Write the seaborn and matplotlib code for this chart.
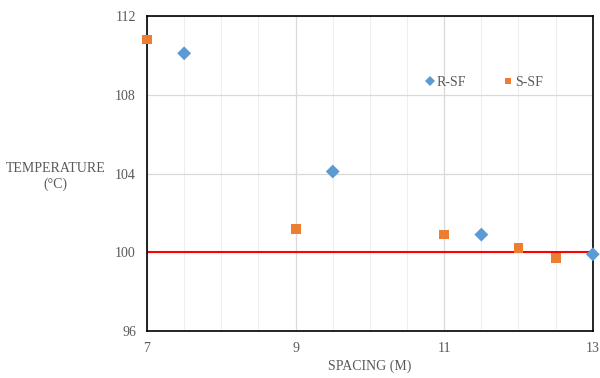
import pandas as pd
import numpy as np
import seaborn as sns
import matplotlib.pyplot as plt
from matplotlib.ticker import MultipleLocator

# data
r_sf_x = [7.5, 9.5, 11.5, 13.0]
r_sf_y = [110.1, 104.1, 100.9, 99.9]
s_sf_x = [7.0, 9.0, 11.0, 12.0, 12.5]
s_sf_y = [110.8, 101.2, 100.9, 100.2, 99.7]
x_ticks = [7, 9, 11, 13]
y_ticks = [96, 100, 104, 108, 112]
limit_temp = 100

df = pd.DataFrame({
    'spacing': r_sf_x + s_sf_x,
    'temp': r_sf_y + s_sf_y,
    'series': ['R-SF'] * len(r_sf_x) + ['S-SF'] * len(s_sf_x),
})

sns.set_style('white')
plt.rcParams['font.family'] = ['Liberation Serif', 'DejaVu Serif']
txt = '#595959'

fig, ax = plt.subplots(figsize=(6, 3.78), dpi=100)
fig.subplots_adjust(left=0.245, right=0.988, top=0.958, bottom=0.124)

ax.axhline(limit_temp, color='#FF0000', lw=1.5, zorder=2)
sns.scatterplot(data=df, x='spacing', y='temp', hue='series', style='series',
                palette={'R-SF': '#5B9BD5', 'S-SF': '#ED7D31'},
                markers={'R-SF': 'D', 'S-SF': 's'}, s=50, linewidth=0,
                ax=ax, zorder=3, clip_on=False)

ax.set_xlim(7, 13)
ax.set_ylim(96, 112)
ax.set_xticks(x_ticks)
ax.set_yticks(y_ticks)
ax.xaxis.set_minor_locator(MultipleLocator(0.5))
ax.grid(which='major', color='#D9D9D9', lw=0.9)
ax.grid(which='minor', axis='x', color='#EEEEEE', lw=0.8)
ax.set_axisbelow(True)
for sp in ax.spines.values():
    sp.set_color('black')
    sp.set_linewidth(1.2)
ax.tick_params(which='both', length=0, colors=txt, labelsize=10, pad=8)

ax.set_xlabel('SPACING (M)', color=txt, fontsize=10, labelpad=3)
ax.set_ylabel('TEMPERATURE\n(°C)', color=txt, fontsize=10, rotation=0,
              ha='center', va='center', labelpad=10)
ax.yaxis.set_label_coords(-0.205, 0.49)

leg = ax.legend(title=None, ncol=2, frameon=False, loc='center',
                bbox_to_anchor=(0.755, 0.79), fontsize=10, handlelength=0.8,
                handletextpad=0.1, columnspacing=2.65, markerscale=0.7)
for t in leg.get_texts():
    t.set_color(txt)

plt.savefig('out.png', dpi=100)
